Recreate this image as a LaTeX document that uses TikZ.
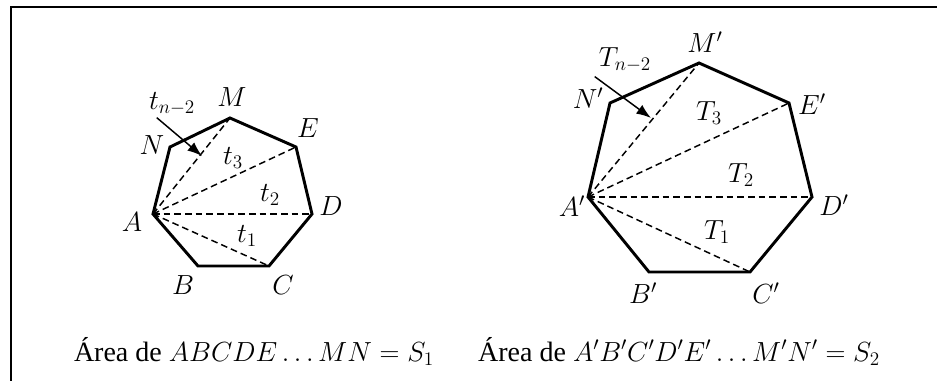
\documentclass[tikz,border=0pt]{standalone}
\usepackage{fontspec}
\setmainfont{Liberation Serif}
\usepackage{amsmath}
\usetikzlibrary{arrows.meta,positioning}

\begin{document}
\begin{tikzpicture}[
      x=0.75pt,y=-0.75pt,
      poly/.style={line width=2.2pt,line join=miter},
      diag/.style={dashed,line width=1.1pt,dash pattern=on 5pt off 3pt},
      arr/.style={-{Latex[length=11pt,width=8pt]},line width=1.1pt},
      vlbl/.style={font=\fontsize{20}{24}\selectfont,inner sep=0pt},
      tlbl/.style={font=\fontsize{21}{25}\selectfont,inner sep=0pt},
      captxt/.style={font=\fontsize{21}{25}\selectfont,inner sep=0pt,anchor=base},
    ]
    \useasboundingbox (0,0) rectangle (937,381);
    \clip (0,0) rectangle (937,381);
    % frame
    \draw[line width=2.2pt] (11,7) rectangle (980,420);

    % small polygon
    \coordinate (A) at (153,214);
    \coordinate (B) at (198,266);
    \coordinate (C) at (269,266);
    \coordinate (D) at (312,214);
    \coordinate (E) at (296,147);
    \coordinate (M) at (230,118);
    \coordinate (N) at (170,147);
    \draw[poly] (A)--(B)--(C)--(D)--(E)--(M)--(N)--cycle;
    \foreach \v in {C,D,E,M} \draw[diag] (A)--(\v);
    \node[vlbl] (lA) at (132,222) {$A$};
    \node[vlbl] (lB) at (183,285) {$B$};
    \node[vlbl] (lC) at (283,285) {$C$};
    \node[vlbl] (lD) at (331,206) {$D$};
    \node[vlbl] (lE) at (308,128) {$E$};
    \node[vlbl] (lM) at (232,97) {$M$};
    \node[vlbl] (lN) at (152,145) {$N$};
    \node[tlbl] (t1) at (247,236) {$t_1$};
    \node[tlbl] (t2) at (270,195) {$t_2$};
    \node[tlbl] (t3) at (233,158) {$t_3$};
    \node[tlbl] (tn) at (172,104) {$t_{n-2}$};
    \coordinate (tnend) at (202,156);
    \draw[arr] (tn.south west)++(8,2) -- (tnend);

    % large polygon
    \coordinate (A') at (588,197);
    \coordinate (B') at (649,272);
    \coordinate (C') at (750,272);
    \coordinate (D') at (812,197);
    \coordinate (E') at (789,103);
    \coordinate (M') at (699,63);
    \coordinate (N') at (610,103);
    \draw[poly] (A')--(B')--(C')--(D')--(E')--(M')--(N')--cycle;
    \foreach \v in {C',D',E',M'} \draw[diag] (A')--(\v);
    \node[vlbl] (lA') at (572,206) {$A'$};
    \node[vlbl] (lB') at (643,293) {$B'$};
    \node[vlbl] (lC') at (766,293) {$C'$};
    \node[vlbl] (lD') at (834,205) {$D'$};
    \node[vlbl] (lE') at (812,104) {$E'$};
    \node[vlbl] (lM') at (705,42) {$M'$};
    \node[vlbl] (lN') at (588,98) {$N'$};
    \node[tlbl] (T1) at (717,232) {$T_1$};
    \node[tlbl] (T2) at (741,175) {$T_2$};
    \node[tlbl] (T3) at (709,113) {$T_3$};
    \node[tlbl] (Tn) at (625,60) {$T_{n-2}$};
    \coordinate (Tnend) at (651,118);
    \draw[arr] (Tn.south west)++(-4,4) -- (Tnend);

    % captions
    \node[captxt] (cap1) at (254,361) {Área de $ABCDE\dots MN=S_1$};
    \node[captxt] (cap2) at (679,361) {Área de $A'B'C'D'E'\dots M'N'=S_2$};
  \end{tikzpicture}
\end{document}
